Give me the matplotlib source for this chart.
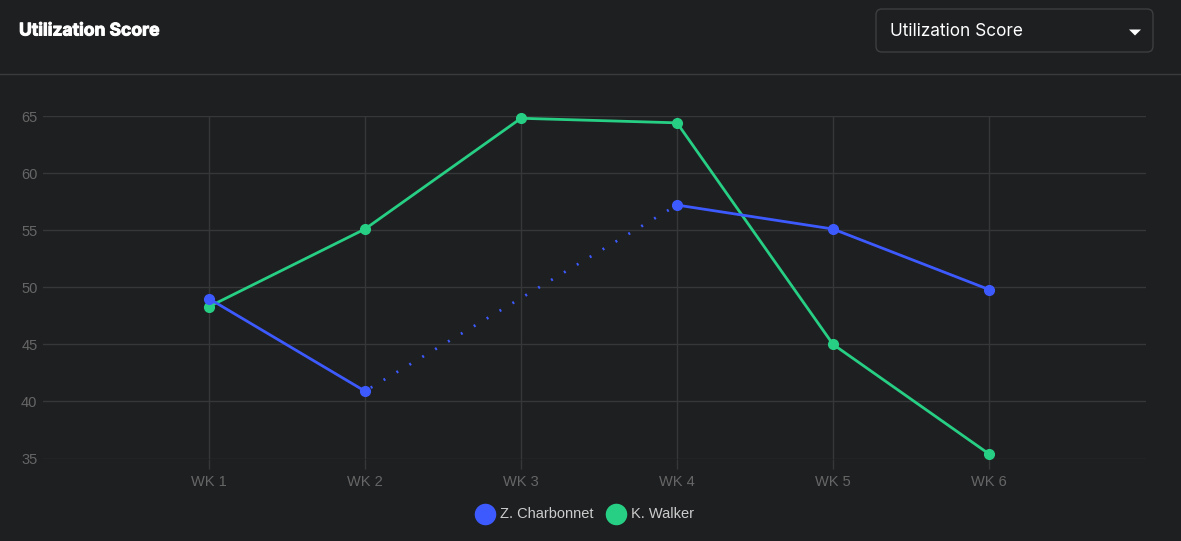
import numpy as np
import matplotlib
matplotlib.use('Agg')
import matplotlib.pyplot as plt
import matplotlib.patheffects as pe
from matplotlib.patches import FancyBboxPatch, Polygon
from matplotlib.lines import Line2D

weeks = ['WK 1', 'WK 2', 'WK 3', 'WK 4', 'WK 5', 'WK 6']
charbonnet = [49.0, 40.9, None, 57.2, 55.1, 49.8]
walker = [48.3, 55.1, 64.8, 64.4, 45.0, 35.4]
series_names = ['Z. Charbonnet', 'K. Walker']
yticks = [35, 40, 45, 50, 55, 60, 65]

bg = '#1e1f21'
grid_c = '#363739'
blue = '#3d5afe'
green = '#27cf84'
W, H = 1181, 541

plt.rcParams['lines.scale_dashes'] = False
fig = plt.figure(figsize=(W / 100, H / 100), dpi=100, facecolor=bg)

# header
fig.text(19 / W, 1 - 31 / H, 'Utilization Score', color='white', fontsize=12.6,
         fontweight='bold', family=['Inter', 'DejaVu Sans'], va='center', ha='left',
         path_effects=[pe.withStroke(linewidth=0.7, foreground='white')])
fig.add_artist(Line2D([0, 1], [1 - 73.5 / H, 1 - 73.5 / H], color='#3a3b3d', lw=1,
                      transform=fig.transFigure))
box = FancyBboxPatch((876 / W, 1 - 52 / H), 277 / W, 43 / H,
                     boxstyle='round,pad=0,rounding_size=0.005', transform=fig.transFigure,
                     facecolor=bg, edgecolor='#3d3e40', lw=1, mutation_aspect=W / H)
fig.add_artist(box)
fig.text(890 / W, 1 - 31 / H, 'Utilization Score', color='white', fontsize=12.4,
         family=['Inter', 'DejaVu Sans'], va='center', ha='left')
tri = Polygon([[1129 / W, 1 - 29.5 / H], [1141 / W, 1 - 29.5 / H], [1135 / W, 1 - 35.5 / H]],
              closed=True, transform=fig.transFigure, facecolor='white', edgecolor='none')
fig.add_artist(tri)

# plot area
ax = fig.add_axes([43 / W, 1 - 458.5 / H, (1146 - 43) / W, (458.5 - 116) / H])
ax.set_facecolor(bg)
x = np.arange(len(weeks))
b = np.array([np.nan if v is None else v for v in charbonnet], dtype=float)
g = np.array(walker, dtype=float)

ax.plot(x, g, color=green, lw=2, marker='o', ms=7, mec=green, zorder=3, clip_on=False)
ax.plot(x, b, color=blue, lw=2, marker='o', ms=7, mec=blue, zorder=4, clip_on=False)

# span missing values with a dotted line
valid = np.where(~np.isnan(b))[0]
for i0, i1 in zip(valid[:-1], valid[1:]):
    if i1 - i0 > 1:
        ax.plot([x[i0], x[i1]], [b[i0], b[i1]], color=blue, lw=2,
                linestyle=(6, (1.4, 9.4)), zorder=4)

ax.set_xlim(-166 / 156, -166 / 156 + (1146 - 43) / 156)
ax.set_ylim(35, 65)
ax.set_xticks(x)
ax.set_xticklabels(weeks)
ax.set_yticks(yticks)
ax.grid(True, color=grid_c, lw=1)
for s in ax.spines.values():
    s.set_visible(False)
ax.tick_params(axis='x', length=7.2, width=1, color=grid_c, colors='#666666', pad=5,
               labelsize=10.5)
ax.tick_params(axis='y', length=0, colors='#666666', pad=4, labelsize=10.5)
for lab in ax.get_xticklabels() + ax.get_yticklabels():
    lab.set_family(['Liberation Sans', 'DejaVu Sans'])

# legend drawn by hand: circle then label
legend_x = [485, 616]
for name, c, lx in zip(series_names, (blue, green), legend_x):
    fig.add_artist(Line2D([lx / W], [1 - 513.5 / H], lw=0, marker='o', ms=14.5, color=c,
                          transform=fig.transFigure))
    fig.text((lx + 15) / W, 1 - 513.5 / H, name, color='#cccccc', fontsize=10.5,
             family=['Liberation Sans', 'DejaVu Sans'], va='center', ha='left')

fig.savefig('out.png', dpi=100, facecolor=bg)
